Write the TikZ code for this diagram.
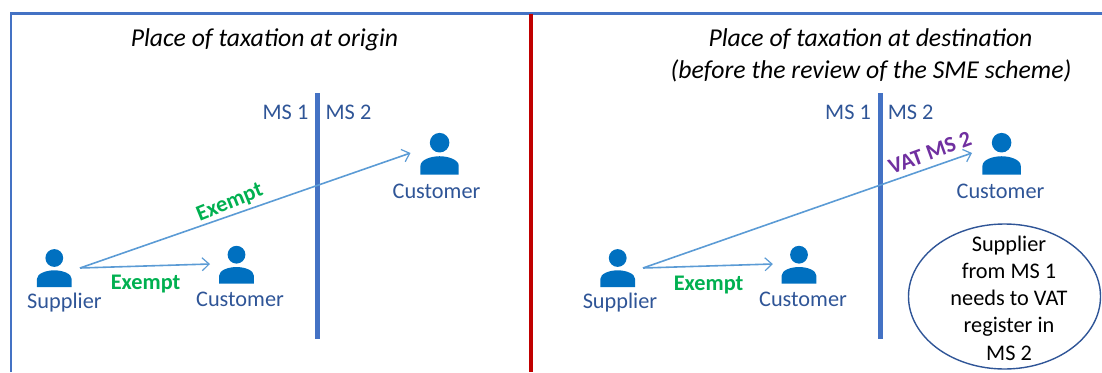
\documentclass[tikz,border=0pt]{standalone}
\usepackage{fontspec}
\setmainfont{Carlito}
\usetikzlibrary{arrows.meta,shapes.geometric}
\definecolor{framecol}{HTML}{4472C4}
\definecolor{redcol}{HTML}{C00000}
\definecolor{arrowcol}{HTML}{5B9BD5}
\definecolor{textblue}{HTML}{2F5597}
\definecolor{iconcol}{HTML}{0070C0}
\definecolor{greencol}{HTML}{00B050}
\definecolor{purplecol}{HTML}{7030A0}
\tikzset{
  x=1pt,y=-1pt,
  framestyle/.style={draw=framecol,line width=2.2pt},
  dividestyle/.style={draw=redcol,line width=3.6pt},
  borderstyle/.style={draw=framecol,line width=4.4pt},
  flowstyle/.style={draw=arrowcol,line width=1.6pt,-{Straight Barb[length=7pt,width=13pt,line width=1.2pt]}},
  lbl/.style={font=\fontsize{22.3}{26}\selectfont,text=textblue,inner sep=0pt,anchor=center},
  greenlbl/.style={font=\fontsize{22.3}{26}\selectfont\bfseries,text=greencol,inner sep=0pt},
  purplelbl/.style={font=\fontsize{22.3}{26}\selectfont\bfseries,text=purplecol,inner sep=0pt},
  titlelbl/.style={font=\fontsize{25.7}{31}\selectfont\itshape,text=black,inner sep=0pt},
  callout/.style={draw=textblue,line width=1.4pt,ellipse,inner sep=0pt},
  calloutlbl/.style={font=\fontsize{22.3}{27.3}\selectfont,text=black,align=center,inner sep=0pt},
  person/.pic={
    \fill[iconcol] (0,0) circle (8.9);
    \fill[iconcol] (-17.4,29) -- (-17.4,21) .. controls (-17.4,15.5) and (-8,12.3) .. (0,12.3)
      .. controls (8,12.3) and (17.4,15.5) .. (17.4,21) -- (17.4,29) -- cycle;
  }
}
\begin{document}
\begin{tikzpicture}
\useasboundingbox (0,0) rectangle (1102,372);
% frame and divider
\coordinate (frameBL) at (11,372);
\coordinate (frameTL) at (11,13.5);
\coordinate (frameTR) at (1102,13.5);
\coordinate (divT) at (531,13.5);
\coordinate (divB) at (531,372);
\draw[framestyle] (frameBL) -- (frameTL) -- (frameTR);
\draw[dividestyle] (divT) -- (divB);
% left panel
\node[titlelbl] (titleL) at (264.5,39.5) {Place of taxation at origin};
\coordinate (borderLT) at (317.5,93);
\coordinate (borderLB) at (317.5,339);
\draw[borderstyle] (borderLT) -- (borderLB);
\node[lbl] (ms1L) at (285.5,112) {MS 1};
\node[lbl] (ms2L) at (348.5,112) {MS 2};
\pic at (54.3,258) {person};
\pic at (236.5,254.7) {person};
\pic[scale=1.1] at (439.6,142.7) {person};
\node[lbl] (supL) at (64.5,302.5) {Supplier};
\node[lbl] (cusLa) at (240,299) {Customer};
\node[lbl] (cusLb) at (436.5,191) {Customer};
\coordinate (startL) at (80,268);
\coordinate (endLa) at (210,264);
\coordinate (endLb) at (410.5,153);
\draw[flowstyle] (startL) -- (endLa);
\draw[flowstyle] (startL) -- (endLb);
\node[greenlbl] (exL1) at (145.6,284) {Exempt};
\node[greenlbl,rotate=22] (exL2) at (230,203) {Exempt};
% right panel
\node[titlelbl] (titleRa) at (870.5,39.5) {Place of taxation at destination};
\node[titlelbl] (titleRb) at (871,70.5) {(before the review of the SME scheme)};
\coordinate (borderRT) at (880.5,93);
\coordinate (borderRB) at (880.5,339);
\draw[borderstyle] (borderRT) -- (borderRB);
\node[lbl] (ms1R) at (848,112) {MS 1};
\node[lbl] (ms2R) at (910.7,112) {MS 2};
\pic at (617.7,258) {person};
\pic at (799,254.7) {person};
\pic[scale=1.1] at (1001.6,142.7) {person};
\node[lbl] (supR) at (620,302.5) {Supplier};
\node[lbl] (cusRa) at (803,299) {Customer};
\node[lbl] (cusRb) at (1000.5,191) {Customer};
\coordinate (startR) at (643,268);
\coordinate (endRa) at (772.8,264);
\coordinate (endRb) at (972,153);
\draw[flowstyle] (startR) -- (endRa);
\draw[flowstyle] (startR) -- (endRb);
\node[greenlbl] (exR) at (708.6,285.5) {Exempt};
\node[purplelbl,rotate=20] (vat) at (930,152.7) {VAT MS 2};
\node[callout,minimum width=192pt,minimum height=145pt] (note) at (1004.5,296.5) {};
\node[calloutlbl] (noteText) at (1009,298) {Supplier\\from MS 1\\needs to VAT\\register in\\MS 2};
\end{tikzpicture}
\end{document}
